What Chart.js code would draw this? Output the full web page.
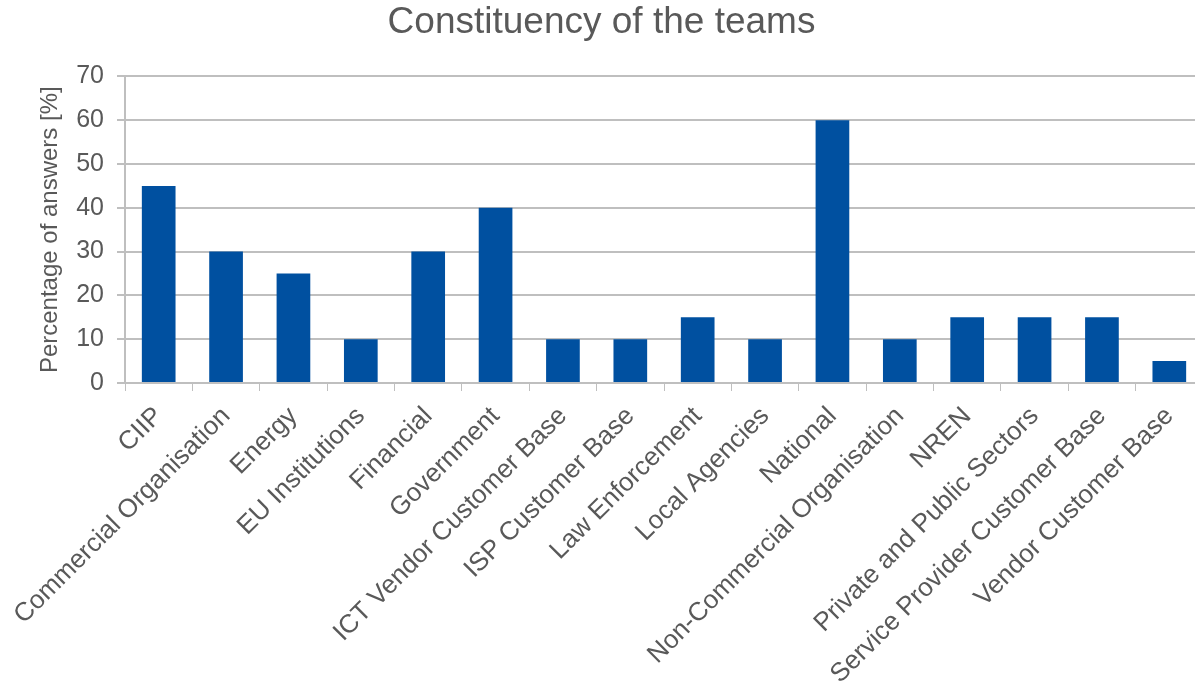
<!DOCTYPE html>
<html>
<head>
<meta charset="utf-8">
<script src="https://cdn.jsdelivr.net/npm/chart.js@4"></script>
<style>
    html, body { margin: 0; padding: 0; background: #fff; overflow: hidden; }
    #caja { width: 1203px; height: 687px; }
</style>
</head>
<body>
<div id="caja"><canvas id="grafico"></canvas></div>
<script>
// datos
const categorias = [
    "CIIP", "Commercial Organisation", "Energy", "EU Institutions", "Financial",
    "Government", "ICT Vendor Customer Base", "ISP Customer Base", "Law Enforcement",
    "Local Agencies", "National", "Non-Commercial Organisation", "NREN",
    "Private and Public Sectors", "Service Provider Customer Base", "Vendor Customer Base"
];
const porcentajes = [45, 30, 25, 10, 30, 40, 10, 10, 15, 10, 60, 10, 15, 15, 15, 5];
const ticksY = [0, 10, 20, 30, 40, 50, 60, 70];

const gris = '#595959';
const lineas = '#bfbfbf';
Chart.defaults.font.family = '"Liberation Sans", Arial, sans-serif';
Chart.defaults.color = gris;

const ctx = document.getElementById('grafico');
new Chart(ctx, {
    type: 'bar',
    data: {
        labels: categorias,
        datasets: [{
            data: porcentajes,
            backgroundColor: '#0050a0',
            barPercentage: 0.5,
            categoryPercentage: 1
        }]
    },
    options: {
        responsive: true,
        maintainAspectRatio: false,
        animation: false,
        layout: { padding: 0 },
        plugins: {
            legend: { display: false },
            tooltip: { enabled: false },
            title: {
                display: true,
                text: 'Constituency of the teams',
                font: { size: 37, weight: 'normal' },
                color: gris,
                padding: { top: 1, bottom: 31 }
            }
        },
        scales: {
            x: {
                grid: { drawOnChartArea: false, drawTicks: true, tickLength: 8, color: lineas, offset: true },
                border: { color: lineas, width: 2 },
                ticks: {
                    autoSkip: false,
                    maxRotation: 45,
                    minRotation: 45,
                    font: { size: 26 },
                    color: gris,
                    padding: 10
                },
                afterFit: function(scale) { scale.height = 304; }
            },
            y: {
                min: 0,
                max: 70,
                afterBuildTicks: function(scale) {
                    scale.ticks = ticksY.map(v => ({ value: v }));
                },
                grid: { color: lineas, lineWidth: 2, tickLength: 8 },
                border: { color: lineas, width: 2 },
                ticks: { font: { size: 25 }, color: gris, padding: 13 },
                title: {
                    display: true,
                    text: 'Percentage of answers [%]',
                    font: { size: 24 },
                    color: gris,
                    padding: { top: 36, bottom: 0 }
                },
                afterFit: function(scale) { scale.width = 125; }
            }
        }
    }
});
</script>
</body>
</html>
